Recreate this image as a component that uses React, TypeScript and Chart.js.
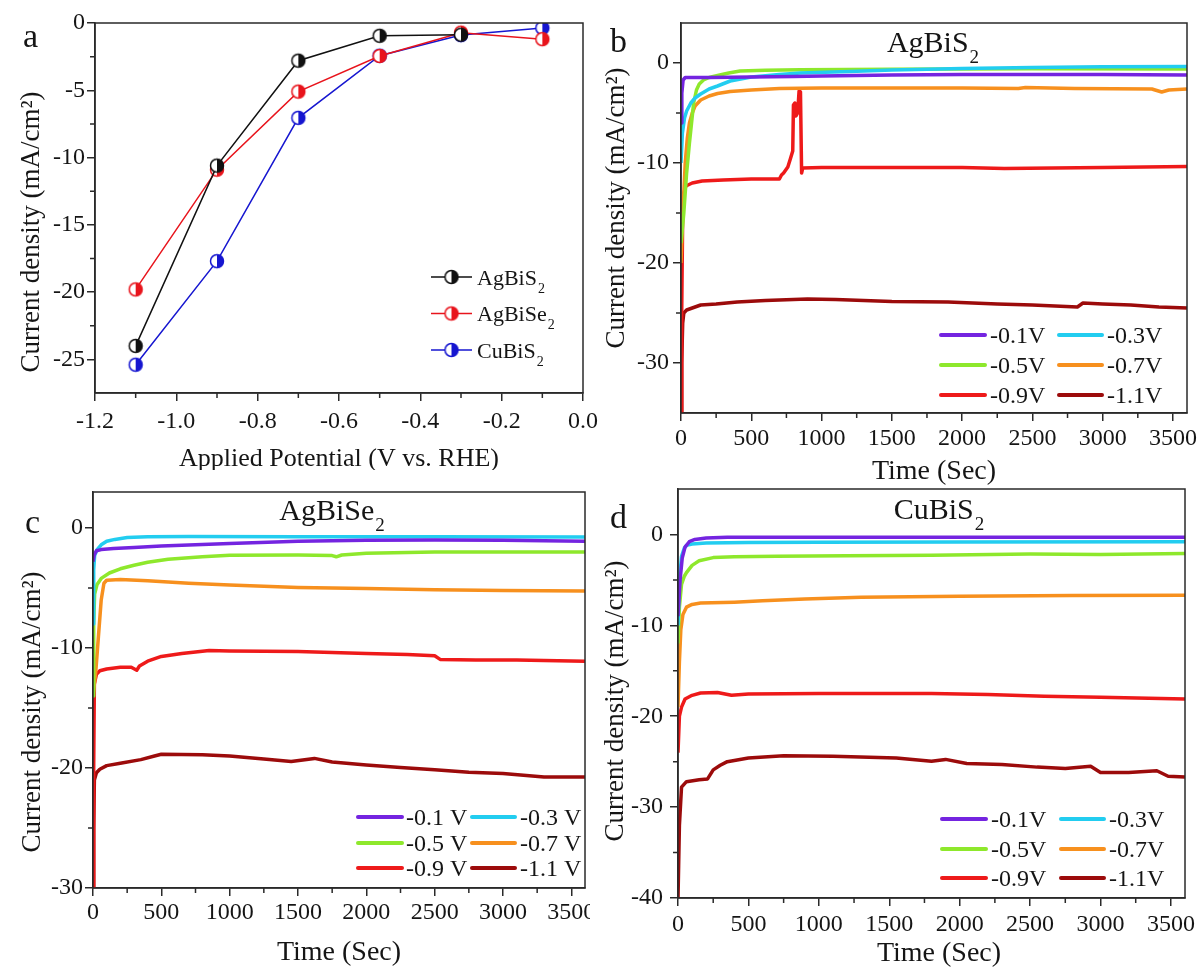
import { useEffect, useRef } from "react";
import { Chart, registerables } from "chart.js";

Chart.register(...registerables);

const SERIF = '"Liberation Serif", "Times New Roman", Times, serif';
const INK = "#151515";
const FRAME = "#2a2a2a";

/* ---------- (a) current density vs. applied potential ---------- */
const potentials = [-1.1, -0.9, -0.7, -0.5, -0.3, -0.1];
const jAgBiS2 = [-24.0, -10.6, -2.8, -0.95, -0.87, null];
const jAgBiSe2 = [-19.8, -10.9, -5.1, -2.45, -0.72, -1.2];
const jCuBiS2 = [-25.4, -17.7, -7.05, -2.43, -0.9, -0.37];
const materials = ["AgBiS2", "AgBiSe2", "CuBiS2"];
const materialColors = ["#111111", "#e8141c", "#1616d0"];
const potentialTicks = [-1.2, -1.0, -0.8, -0.6, -0.4, -0.2, 0.0];
const potentialMinor = [-1.1, -0.9, -0.7, -0.5, -0.3, -0.1];
const densityTicksA = [0, -5, -10, -15, -20, -25];
const densityMinorA = [-2.5, -7.5, -12.5, -17.5, -22.5];

/* ---------- (b–d) chronoamperometry at fixed bias ---------- */
const biasLabels = ["-0.1V", "-0.3V", "-0.5V", "-0.7V", "-0.9V", "-1.1V"];
const biasLabelsSpaced = ["-0.1 V", "-0.3 V", "-0.5 V", "-0.7 V", "-0.9 V", "-1.1 V"];
const biasColors = ["#7424e0", "#22cdf0", "#8ee82c", "#f7901e", "#ee1a1a", "#9c0b0b"];
const timeTicks = [0, 500, 1000, 1500, 2000, 2500, 3000, 3500];
const timeMinor = [250, 750, 1250, 1750, 2250, 2750, 3250];

type Pt = [number, number];

// AgBiS2: [time (s), current density (mA/cm2)]
const agbis2M01: Pt[] = [[0, -6], [6, -3], [15, -1.7], [30, -1.45], [200, -1.45], [500, -1.4], [800, -1.35], [1000, -1.3], [1500, -1.2], [2000, -1.15], [2500, -1.15], [3000, -1.15], [3600, -1.2]];
const agbis2M03: Pt[] = [[0, -10], [10, -7], [25, -5.5], [40, -4.8], [70, -4.0], [100, -3.5], [140, -3.1], [200, -2.6], [260, -2.3], [350, -1.8], [500, -1.4], [700, -1.15], [850, -1.0], [1200, -0.85], [1500, -0.7], [2000, -0.55], [2500, -0.45], [3000, -0.38], [3600, -0.35]];
const agbis2M05: Pt[] = [[0, -18], [20, -15], [40, -11], [60, -8], [75, -6], [90, -4], [110, -2.7], [130, -2.1], [160, -1.7], [200, -1.45], [260, -1.25], [340, -1.0], [420, -0.8], [600, -0.72], [850, -0.68], [1500, -0.62], [2500, -0.58], [3600, -0.6]];
const agbis2M07: Pt[] = [[0, -20], [10, -16], [20, -13], [30, -10], [45, -7.5], [60, -6], [80, -5], [100, -4.3], [140, -3.7], [200, -3.3], [260, -3.05], [350, -2.85], [500, -2.7], [700, -2.55], [1000, -2.5], [1500, -2.5], [2000, -2.5], [2400, -2.55], [2450, -2.45], [2800, -2.55], [3350, -2.6], [3420, -2.9], [3470, -2.7], [3600, -2.6]];
const agbis2M09: Pt[] = [[0, -35], [5, -25], [12, -15], [20, -13], [35, -12.3], [80, -12], [150, -11.8], [300, -11.7], [500, -11.6], [700, -11.6], [715, -11.2], [730, -11], [760, -10.4], [780, -9.5], [795, -8.8], [800, -4.2], [810, -4.0], [818, -5.3], [830, -5.0], [840, -2.8], [850, -2.9], [858, -11.0], [866, -10.5], [1000, -10.45], [2000, -10.45], [2300, -10.55], [3000, -10.45], [3600, -10.35]];
const agbis2M11: Pt[] = [[0, -35], [5, -30], [12, -26], [20, -25], [40, -24.7], [80, -24.5], [140, -24.2], [250, -24.1], [400, -23.9], [600, -23.75], [900, -23.6], [1100, -23.65], [1500, -23.85], [1900, -23.9], [2250, -24.1], [2500, -24.2], [2820, -24.4], [2860, -24.0], [3000, -24.1], [3200, -24.2], [3400, -24.4], [3600, -24.5]];

// AgBiSe2
const agbise2M01: Pt[] = [[0, -2.8], [10, -2.2], [25, -1.9], [60, -1.8], [150, -1.7], [300, -1.62], [500, -1.5], [800, -1.38], [1000, -1.3], [1500, -1.1], [2000, -1.02], [2500, -1.0], [3000, -1.02], [3600, -1.1]];
const agbise2M03: Pt[] = [[0, -8], [5, -3.5], [12, -2.3], [30, -1.8], [60, -1.4], [100, -1.1], [160, -0.95], [250, -0.8], [400, -0.72], [700, -0.7], [1500, -0.72], [2500, -0.72], [3600, -0.75]];
const agbise2M05: Pt[] = [[0, -14], [5, -8], [12, -5.5], [30, -4.7], [60, -4.2], [120, -3.75], [200, -3.4], [300, -3.1], [400, -2.85], [550, -2.6], [800, -2.4], [1000, -2.27], [1500, -2.25], [1750, -2.3], [1780, -2.4], [1820, -2.25], [2000, -2.1], [2500, -2.0], [3000, -2.0], [3600, -2.0]];
const agbise2M07: Pt[] = [[0, -14], [20, -12], [40, -9], [60, -6], [80, -4.6], [100, -4.35], [200, -4.3], [400, -4.4], [700, -4.6], [1000, -4.75], [1500, -4.95], [2000, -5.05], [2500, -5.15], [3000, -5.2], [3600, -5.25]];
const agbise2M09: Pt[] = [[0, -30], [5, -20], [10, -13], [25, -12.2], [50, -11.9], [100, -11.75], [200, -11.6], [280, -11.6], [320, -11.85], [340, -11.5], [400, -11.1], [500, -10.7], [650, -10.45], [850, -10.2], [1000, -10.25], [1500, -10.3], [2000, -10.45], [2300, -10.55], [2500, -10.65], [2540, -10.95], [2800, -11.0], [3100, -11.0], [3600, -11.1]];
const agbise2M11: Pt[] = [[0, -30], [5, -25], [10, -21], [25, -20.4], [50, -20.1], [100, -19.8], [200, -19.6], [350, -19.3], [450, -19.0], [500, -18.85], [800, -18.9], [1000, -19.0], [1250, -19.25], [1450, -19.45], [1620, -19.2], [1750, -19.5], [2000, -19.75], [2250, -19.95], [2500, -20.15], [2750, -20.35], [3000, -20.45], [3300, -20.75], [3600, -20.75]];

// CuBiS2
const cubis2M01: Pt[] = [[0, -9], [15, -5], [30, -2.6], [50, -1.4], [80, -0.8], [120, -0.55], [200, -0.4], [350, -0.32], [1000, -0.3], [2000, -0.3], [3600, -0.3]];
const cubis2M03: Pt[] = [[0, -10], [10, -5], [25, -2.4], [45, -1.5], [60, -1.2], [100, -1.05], [200, -0.95], [500, -0.88], [1000, -0.85], [2000, -0.82], [3600, -0.8]];
const cubis2M05: Pt[] = [[0, -12], [10, -8], [25, -5.5], [45, -4.6], [60, -4.2], [100, -3.4], [150, -2.9], [250, -2.55], [400, -2.45], [700, -2.4], [1200, -2.35], [1800, -2.3], [2500, -2.15], [3000, -2.2], [3600, -2.1]];
const cubis2M07: Pt[] = [[0, -19], [10, -14], [20, -10.5], [35, -8.8], [60, -8.0], [100, -7.7], [160, -7.55], [400, -7.45], [600, -7.3], [900, -7.1], [1300, -6.9], [2000, -6.8], [2800, -6.72], [3600, -6.7]];
const cubis2M09: Pt[] = [[0, -24], [10, -20], [25, -19], [50, -18.1], [100, -17.7], [160, -17.45], [280, -17.4], [380, -17.7], [500, -17.55], [1000, -17.5], [1800, -17.5], [2200, -17.6], [2600, -17.8], [3000, -17.9], [3600, -18.1]];
const cubis2M11: Pt[] = [[0, -40], [10, -32], [25, -27.8], [60, -27.2], [150, -27.0], [210, -26.9], [250, -25.9], [300, -25.4], [350, -25.0], [500, -24.6], [750, -24.35], [1100, -24.4], [1550, -24.6], [1800, -24.95], [1900, -24.75], [2050, -25.2], [2300, -25.3], [2550, -25.6], [2750, -25.75], [2930, -25.5], [3000, -26.2], [3200, -26.2], [3400, -26.0], [3480, -26.6], [3600, -26.7]];

const Y_TITLE = "Current density (mA/cm\u00B2)";
const X_TITLE_A = "Applied Potential (V vs. RHE)";
const X_TITLE_T = "Time (Sec)";

/* ---------- drawing helpers ---------- */
function drawFormula(ctx: CanvasRenderingContext2D, text: string, x: number, y: number, size: number, align: "left" | "center") {
  const m = text.match(/^(.*?)(\d+)$/);
  const base = m ? m[1] : text;
  const sub = m ? m[2] : "";
  const ss = Math.round(size * 0.64);
  ctx.font = `${size}px ${SERIF}`;
  const wb = ctx.measureText(base).width;
  ctx.font = `${ss}px ${SERIF}`;
  const ws = ctx.measureText(sub).width;
  const x0 = align === "center" ? x - (wb + ws + 1) / 2 : x;
  ctx.textAlign = "left";
  ctx.textBaseline = "alphabetic";
  ctx.font = `${size}px ${SERIF}`;
  ctx.fillText(base, x0, y);
  if (sub) {
    ctx.font = `${ss}px ${SERIF}`;
    ctx.fillText(sub, x0 + wb + 1, y + size * 0.38);
  }
}

function halfMarker(color: string, r = 6.5, lw = 1.5) {
  const size = Math.ceil(2 * r + lw + 3);
  const c = document.createElement("canvas");
  c.width = size;
  c.height = size;
  const g = c.getContext("2d")!;
  const m = size / 2;
  g.fillStyle = "#ffffff";
  g.beginPath();
  g.arc(m, m, r, 0, Math.PI * 2);
  g.fill();
  g.fillStyle = color;
  g.beginPath();
  g.moveTo(m, m);
  g.arc(m, m, r, -Math.PI / 2, Math.PI / 2);
  g.closePath();
  g.fill();
  g.strokeStyle = color;
  g.lineWidth = lw;
  g.beginPath();
  g.arc(m, m, r, 0, Math.PI * 2);
  g.stroke();
  return c;
}

type Rect = { x: number; y: number; w: number; h: number };
type Plot = { l: number; t: number; r: number; b: number };

interface Decor {
  box: Rect;
  plot: Plot;
  xMinor: number[];
  yMinor: number[];
  letter: string;
  letterAt: [number, number];
  title?: string;
  titleAt?: [number, number];
  xTitle: string;
  xTitleSize: number;
  xTitleAt: [number, number];
  yTitleAt: [number, number];
  legend: (ctx: CanvasRenderingContext2D, chart: Chart) => void;
}

function decorPlugin(d: Decor) {
  return {
    id: "decor",
    afterDraw(chart: Chart) {
      const ctx = chart.ctx;
      const { left, top, right, bottom } = chart.chartArea;
      const xs = chart.scales.x;
      const ys = chart.scales.y;
      ctx.save();
      ctx.strokeStyle = FRAME;
      ctx.lineWidth = 1.5;
      ctx.strokeRect(left, top, right - left, bottom - top);
      ctx.beginPath();
      for (const v of d.xMinor) {
        const px = xs.getPixelForValue(v);
        ctx.moveTo(px, bottom);
        ctx.lineTo(px, bottom + 5);
      }
      for (const v of d.yMinor) {
        const py = ys.getPixelForValue(v);
        ctx.moveTo(left, py);
        ctx.lineTo(left - 5, py);
      }
      ctx.stroke();

      ctx.translate(-d.box.x, -d.box.y);
      ctx.fillStyle = INK;
      // panel letter
      ctx.font = `34px ${SERIF}`;
      ctx.textAlign = "left";
      ctx.textBaseline = "alphabetic";
      ctx.fillText(d.letter, d.letterAt[0], d.letterAt[1]);
      // sample name
      if (d.title && d.titleAt) drawFormula(ctx, d.title, d.titleAt[0], d.titleAt[1], 30, "center");
      // axis titles
      ctx.textAlign = "center";
      ctx.textBaseline = "alphabetic";
      ctx.font = `${d.xTitleSize}px ${SERIF}`;
      ctx.fillText(d.xTitle, d.xTitleAt[0], d.xTitleAt[1]);
      ctx.font = `27px ${SERIF}`;
      ctx.save();
      ctx.translate(d.yTitleAt[0], d.yTitleAt[1]);
      ctx.rotate(-Math.PI / 2);
      ctx.fillText(Y_TITLE, 0, 0);
      ctx.restore();
      d.legend(ctx, chart);
      ctx.restore();
    },
  };
}

function axisOptions(
  min: number,
  max: number,
  ticks: number[],
  fmt: (v: number) => string,
  fitSize: number,
  horizontal: boolean,
  pad: number
) {
  return {
    type: "linear" as const,
    min,
    max,
    afterBuildTicks: (s: any) => {
      s.ticks = ticks.map((value) => ({ value }));
    },
    afterFit: (s: any) => {
      if (horizontal) s.height = fitSize;
      else s.width = fitSize;
      s.paddingLeft = 0;
      s.paddingRight = 0;
      s.paddingTop = 0;
      s.paddingBottom = 0;
    },
    ticks: {
      autoSkip: false,
      maxRotation: 0,
      minRotation: 0,
      padding: pad,
      color: INK,
      font: { family: SERIF, size: 24 },
      callback: (v: any) => fmt(Number(v)),
    },
    grid: {
      drawOnChartArea: false,
      drawTicks: true,
      tickLength: 8,
      color: FRAME,
      lineWidth: 1.5,
    },
    border: { display: true, color: FRAME, width: 1.5 },
  };
}

function baseOptions(box: Rect, plot: Plot) {
  return {
    responsive: false,
    maintainAspectRatio: false,
    animation: false as const,
    events: [] as any[],
    layout: {
      autoPadding: false,
      padding: { left: 0, top: plot.t - box.y, right: box.x + box.w - plot.r, bottom: 0 },
    },
    plugins: { legend: { display: false }, tooltip: { enabled: false }, title: { display: false } },
  };
}

/* ---------- panel (a) ---------- */
const boxA: Rect = { x: 0, y: 0, w: 600, h: 470 };

function potentialConfig() {
  const box = boxA;
  const plot: Plot = { l: 95, t: 23, r: 583, b: 393 };
  const series = [jAgBiS2, jAgBiSe2, jCuBiS2];
  const markers = materialColors.map((c) => halfMarker(c));
  const legend = (ctx: CanvasRenderingContext2D) => {
    const rows = [277, 313.5, 350];
    materials.forEach((name, i) => {
      const y = rows[i];
      ctx.strokeStyle = materialColors[i];
      ctx.lineWidth = 1.5;
      ctx.beginPath();
      ctx.moveTo(431, y);
      ctx.lineTo(472, y);
      ctx.stroke();
      const mk = markers[i];
      ctx.drawImage(mk, 451.5 - mk.width / 2, y - mk.height / 2);
      ctx.fillStyle = INK;
      drawFormula(ctx, name, 477, y + 7.5, 22, "left");
    });
  };
  const base = baseOptions(box, plot);
  return {
    type: "line" as const,
    data: {
      datasets: series.map((vals, i) => ({
        label: materials[i],
        data: potentials.map((p, k) => ({ x: p, y: vals[k] })),
        borderColor: materialColors[i],
        backgroundColor: materialColors[i],
        borderWidth: 1.5,
        pointStyle: markers[i],
        pointRadius: 6.5,
        spanGaps: false,
        tension: 0,
      })),
    },
    options: {
      ...base,
      scales: {
        x: axisOptions(-1.2, 0, potentialTicks, (v) => v.toFixed(1), box.y + box.h - plot.b, true, 6),
        y: axisOptions(-27.5, 0, densityTicksA, (v) => String(Math.round(v)), plot.l - box.x, false, 2),
      },
    },
    plugins: [
      decorPlugin({
        box,
        plot,
        xMinor: potentialMinor,
        yMinor: densityMinorA,
        letter: "a",
        letterAt: [23, 47],
        xTitle: X_TITLE_A,
        xTitleSize: 26,
        xTitleAt: [339, 466],
        yTitleAt: [39, 232],
        legend,
      }),
    ],
  };
}

/* ---------- panels (b–d) ---------- */
interface TimePanel {
  box: Rect;
  plot: Plot;
  yMin: number;
  yMax: number;
  yTicks: number[];
  yMinor: number[];
  series: Pt[][];
  labels: string[];
  letter: string;
  letterAt: [number, number];
  title: string;
  titleAt: [number, number];
  xTitleAt: [number, number];
  yTitleAt: [number, number];
  legendRows: number[];
  legendLines: [number, number][];
  legendText: number[];
  xPad: number;
  yPad: number;
}

function timeConfig(p: TimePanel) {
  const legend = (ctx: CanvasRenderingContext2D) => {
    p.labels.forEach((lab, i) => {
      const row = Math.floor(i / 2);
      const col = i % 2;
      const y = p.legendRows[row];
      const [x0, x1] = p.legendLines[col];
      ctx.strokeStyle = biasColors[i];
      ctx.lineWidth = 4;
      ctx.lineCap = "round";
      ctx.beginPath();
      ctx.moveTo(x0, y);
      ctx.lineTo(x1, y);
      ctx.stroke();
      ctx.fillStyle = INK;
      ctx.font = `24px ${SERIF}`;
      ctx.textAlign = "left";
      ctx.textBaseline = "alphabetic";
      ctx.fillText(lab, p.legendText[col], y + 8);
    });
  };
  const base = baseOptions(p.box, p.plot);
  return {
    type: "line" as const,
    data: {
      datasets: p.series.map((s, i) => ({
        label: p.labels[i],
        data: s.map(([x, y]) => ({ x, y })),
        borderColor: biasColors[i],
        backgroundColor: biasColors[i],
        borderWidth: 3.5,
        pointRadius: 0,
        tension: 0,
        borderJoinStyle: "round" as const,
      })),
    },
    options: {
      ...base,
      scales: {
        x: axisOptions(0, 3600, timeTicks, (v) => String(v), p.box.y + p.box.h - p.plot.b, true, p.xPad),
        y: axisOptions(p.yMin, p.yMax, p.yTicks, (v) => String(v), p.plot.l - p.box.x, false, p.yPad),
      },
    },
    plugins: [
      decorPlugin({
        box: p.box,
        plot: p.plot,
        xMinor: timeMinor,
        yMinor: p.yMinor,
        letter: p.letter,
        letterAt: p.letterAt,
        title: p.title,
        titleAt: p.titleAt,
        xTitle: X_TITLE_T,
        xTitleSize: 28,
        xTitleAt: p.xTitleAt,
        yTitleAt: p.yTitleAt,
        legend,
      }),
    ],
  };
}

const panelB: TimePanel = {
  box: { x: 600, y: 0, w: 599, h: 487 },
  plot: { l: 681, t: 23, r: 1187, b: 413 },
  yMin: -35,
  yMax: 4,
  yTicks: [0, -10, -20, -30],
  yMinor: [-5, -15, -25],
  series: [agbis2M01, agbis2M03, agbis2M05, agbis2M07, agbis2M09, agbis2M11],
  labels: biasLabels,
  letter: "b",
  letterAt: [610, 52],
  title: "AgBiS2",
  titleAt: [933, 52],
  xTitleAt: [934, 479],
  yTitleAt: [624, 208],
  legendRows: [335, 365, 395],
  legendLines: [[941, 985], [1059, 1102]],
  legendText: [990, 1107],
  xPad: 3,
  yPad: 4,
};

const panelC: TimePanel = {
  box: { x: 0, y: 470, w: 590, h: 497 },
  plot: { l: 93, t: 492, r: 585, b: 888 },
  yMin: -30,
  yMax: 3,
  yTicks: [0, -10, -20, -30],
  yMinor: [-5, -15, -25],
  series: [agbise2M01, agbise2M03, agbise2M05, agbise2M07, agbise2M09, agbise2M11],
  labels: biasLabelsSpaced,
  letter: "c",
  letterAt: [25, 533],
  title: "AgBiSe2",
  titleAt: [332, 520],
  xTitleAt: [339, 960],
  yTitleAt: [40, 712],
  legendRows: [817, 843, 868],
  legendLines: [[358, 402], [472, 515]],
  legendText: [406, 520],
  xPad: 2,
  yPad: 2,
};

const panelD: TimePanel = {
  box: { x: 590, y: 487, w: 609, h: 480 },
  plot: { l: 678, t: 489, r: 1185, b: 898 },
  yMin: -40,
  yMax: 5,
  yTicks: [0, -10, -20, -30, -40],
  yMinor: [-5, -15, -25, -35],
  series: [cubis2M01, cubis2M03, cubis2M05, cubis2M07, cubis2M09, cubis2M11],
  labels: biasLabels,
  letter: "d",
  letterAt: [610, 528],
  title: "CuBiS2",
  titleAt: [939, 519],
  xTitleAt: [939, 961],
  yTitleAt: [623, 701],
  legendRows: [819, 849, 878],
  legendLines: [[942, 986], [1061, 1104]],
  legendText: [991, 1109],
  xPad: 4,
  yPad: 7,
};

function ChartCanvas({ box, make }: { box: Rect; make: () => any }) {
  const ref = useRef<HTMLCanvasElement>(null);
  useEffect(() => {
    const chart = new Chart(ref.current!, make());
    return () => chart.destroy();
  }, []);
  return (
    <canvas
      ref={ref}
      width={box.w}
      height={box.h}
      style={{ position: "absolute", left: box.x, top: box.y, width: box.w, height: box.h, background: "#fff" }}
    />
  );
}

export default function App() {
  return (
    <div style={{ position: "absolute", left: 0, top: 0, width: 1199, height: 967, background: "#fff", overflow: "hidden" }}>
      <ChartCanvas box={boxA} make={potentialConfig} />
      <ChartCanvas box={panelB.box} make={() => timeConfig(panelB)} />
      <ChartCanvas box={panelC.box} make={() => timeConfig(panelC)} />
      <ChartCanvas box={panelD.box} make={() => timeConfig(panelD)} />
    </div>
  );
}
